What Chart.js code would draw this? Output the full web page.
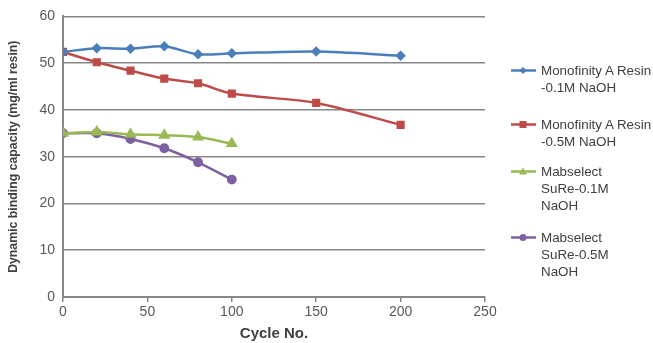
<!DOCTYPE html>
<html><head><meta charset="utf-8">
<script src="https://cdn.jsdelivr.net/npm/chart.js@4/dist/chart.umd.min.js"></script>
<style>
html,body{margin:0;padding:0;background:#fff;}
#wrap{position:relative;width:653px;height:343px;}
#legend{position:absolute;left:510px;top:0;font-family:"Liberation Sans",Arial,sans-serif;font-size:13.4px;color:#404040;}
.item{position:absolute;left:0;width:145px;}
.item svg{position:absolute;left:0;}
.item span{position:absolute;left:31px;line-height:17px;white-space:nowrap;}
</style></head>
<body><div id="wrap"><canvas id="c" width="653" height="343"></canvas><div id="legend"></div></div>
<script>
const cycles = [0, 20, 40, 60, 80, 100, 150, 200];
const monoLow = [52.4, 53.2, 53.1, 53.6, 51.9, 52.1, 52.5, 51.6];
const monoHigh = [52.4, 50.2, 48.4, 46.7, 45.7, 43.5, 41.5, 36.8];
const mabLow = [35.0, 35.3, 34.8, 34.6, 34.2, 32.8];
const mabHigh = [35.0, 35.0, 33.8, 31.8, 28.8, 25.1];
const seriesNames = [["Monofinity A Resin","-0.1M NaOH"],["Monofinity A Resin","-0.5M NaOH"],["Mabselect","SuRe-0.1M","NaOH"],["Mabselect","SuRe-0.5M","NaOH"]];
const colors = ["#4a7ebb","#be4b48","#98b954","#7d60a0"];
const styles = ["rectRot","rect","triangle","circle"];
const radii = [3.5,4,4.5,3.7];
const vals = [monoLow, monoHigh, mabLow, mabHigh];

const datasets = vals.map((v,i)=>({
  label: seriesNames[i].join(" "),
  data: v.map((y,j)=>({x:cycles[j], y:y})),
  borderColor: colors[i], backgroundColor: colors[i],
  pointStyle: styles[i], pointRadius: radii[i], pointHoverRadius: radii[i],
  borderWidth: 2.5, tension: 0.3, fill:false
}));

new Chart(document.getElementById('c'), {
  type: 'line',
  data: { datasets },
  options: {
    responsive:false, animation:false,
    layout:{padding:{top:10,right:168,left:0,bottom:0}},
    plugins:{legend:{display:false}, tooltip:{enabled:false}},
    scales:{
      x:{type:'linear', min:0, max:250,
        ticks:{stepSize:50, color:'#595959', font:{family:'"Liberation Sans",Arial', size:14}, padding:2},
        grid:{drawOnChartArea:false, drawTicks:true, tickLength:5, color:'#868686', lineWidth:1.5},
        border:{color:'#868686', width:2},
        title:{display:true, text:'Cycle No.', color:'#404040', font:{family:'"Liberation Sans",Arial', size:15, weight:'bold'}, padding:{top:4,bottom:0}},
        afterFit:(s)=>{s.height=46;}
      },
      y:{min:0, max:60,
        ticks:{stepSize:10, color:'#595959', font:{family:'"Liberation Sans",Arial', size:14}, padding:8},
        grid:{drawTicks:false, color:'#868686', lineWidth:1.5},
        border:{color:'#868686', width:2},
        title:{display:true, text:'Dynamic binding capacity (mg/ml resin)', color:'#404040', font:{family:'"Liberation Sans",Arial', size:12.3, weight:'bold'}, padding:{top:6,bottom:4}},
        afterFit:(s)=>{s.width=63;}
      }
    }
  }
});

const lg = document.getElementById('legend');
const tops = [62, 116, 163, 229];
seriesNames.forEach((lines,i)=>{
  const d=document.createElement('div'); d.className='item'; d.style.top=tops[i]+'px';
  let m='';
  const cx=13, cy=8.5;
  if(styles[i]==='rectRot') m=`<polygon points="${cx},${cy-3.5} ${cx+3.5},${cy} ${cx},${cy+3.5} ${cx-3.5},${cy}" fill="${colors[i]}"/>`;
  else if(styles[i]==='rect') m=`<rect x="${cx-3.5}" y="${cy-3.5}" width="7" height="7" fill="${colors[i]}"/>`;
  else if(styles[i]==='triangle') m=`<polygon points="${cx},${cy-4} ${cx+4},${cy+3} ${cx-4},${cy+3}" fill="${colors[i]}"/>`;
  else m=`<circle cx="${cx}" cy="${cy}" r="3.5" fill="${colors[i]}"/>`;
  d.innerHTML=`<svg width="28" height="17"><line x1="1" y1="${cy}" x2="26" y2="${cy}" stroke="${colors[i]}" stroke-width="2.5"/>${m}</svg><span>${lines.join('<br>')}</span>`;
  lg.appendChild(d);
});
</script></body></html>
